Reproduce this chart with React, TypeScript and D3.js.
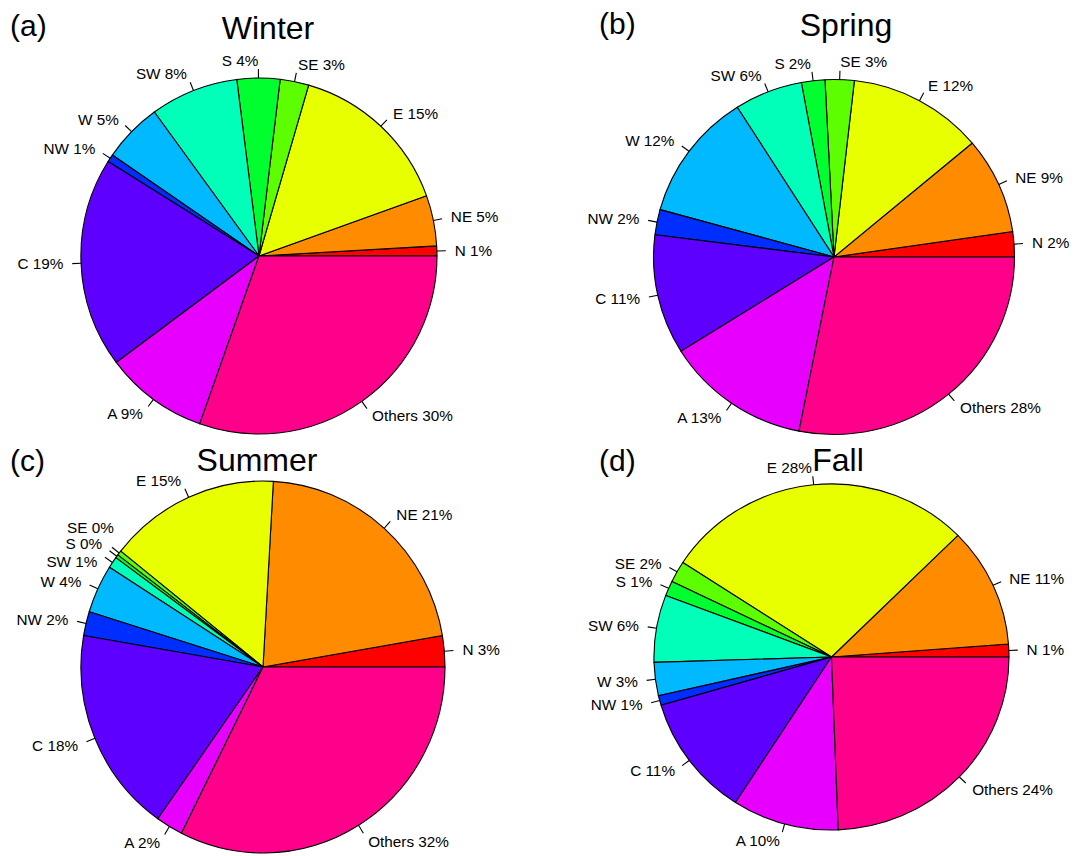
import React from "react";
import * as d3 from "d3";

// Source-region categories, in drawing order (counter-clockwise from 3 o'clock)
const CATEGORIES = ["N", "NE", "E", "SE", "S", "SW", "W", "NW", "C", "A", "Others"];

// rainbow(11) palette
const COLORS = [
  "#FF0000", "#FF8B00", "#E8FF00", "#5DFF00", "#00FF2E", "#00FFB9",
  "#00B9FF", "#002EFF", "#5D00FF", "#E800FF", "#FF008B",
];

const SEASONS = ["Winter", "Spring", "Summer", "Fall"];
const PANEL_TAGS = ["(a)", "(b)", "(c)", "(d)"];

// Seasonal share (%) of each category
const WINTER = [0.9, 4.6, 15.0, 2.6, 3.9, 8.0, 5.4, 0.7, 19.1, 9.4, 30.4];
const SPRING = [2.3, 8.8, 12.1, 2.6, 2.1, 6.1, 11.7, 2.3, 10.9, 13.0, 28.1];
const SUMMER = [2.7, 21.4, 15.2, 0.4, 0.3, 1.0, 4.2, 2.1, 17.9, 2.4, 32.4];
const FALL = [1.2, 11.2, 28.4, 2.0, 1.4, 6.3, 3.1, 0.9, 11.4, 9.7, 24.4];

const SERIES = [WINTER, SPRING, SUMMER, FALL];

// Panel geometry
const LAYOUT = [
  { cx: 259, cy: 256, rx: 178, ry: 178, titleX: 268, titleY: 39, tagX: 10, tagY: 36 },
  { cx: 834, cy: 257, rx: 180.5, ry: 177.5, titleX: 846, titleY: 36, tagX: 599, tagY: 34 },
  { cx: 263, cy: 667, rx: 182, ry: 186, titleX: 257, titleY: 471, tagX: 10, tagY: 471 },
  { cx: 831.5, cy: 657, rx: 177.5, ry: 173, titleX: 838, titleY: 471, tagX: 599, tagY: 471 },
];

// Small hand adjustments that keep crowded labels apart
const LABEL_NUDGE: Record<string, Record<string, [number, number]>> = {
  Summer: { SE: [9, -14], S: [0, -2], SW: [0, 10] },
};

const FONT = "'Liberation Sans', Arial, Helvetica, sans-serif";

const pie = d3
  .pie<number>()
  .sort(null)
  .value((d) => d)
  .startAngle(Math.PI / 2)
  .endAngle(Math.PI / 2 - 2 * Math.PI);

const arc = d3.arc<d3.PieArcDatum<number>>().innerRadius(0).outerRadius(1);

function PiePanel({ index }: { index: number }) {
  const values = SERIES[index];
  const season = SEASONS[index];
  const g = LAYOUT[index];
  const arcs = pie(values);
  const total = d3.sum(values);
  const nudges = LABEL_NUDGE[season] || {};

  return (
    <g>
      <text x={g.tagX} y={g.tagY} fontSize={30} fontFamily={FONT}>
        {PANEL_TAGS[index]}
      </text>
      <text x={g.titleX} y={g.titleY} fontSize={32} fontFamily={FONT} textAnchor="middle">
        {season}
      </text>
      <g transform={`translate(${g.cx},${g.cy}) scale(${g.rx},${g.ry})`}>
        {arcs.map((a, i) => (
          <path
            key={CATEGORIES[i]}
            d={arc(a) || ""}
            fill={COLORS[i]}
            stroke="#000"
            strokeWidth={1.1}
            strokeLinejoin="round"
            vectorEffect="non-scaling-stroke"
          />
        ))}
        {arcs.map((a, i) => {
          const m = (a.startAngle + a.endAngle) / 2;
          return (
            <line
              key={"t" + CATEGORIES[i]}
              x1={Math.sin(m)}
              y1={-Math.cos(m)}
              x2={1.05 * Math.sin(m)}
              y2={-1.05 * Math.cos(m)}
              stroke="#000"
              strokeWidth={1.1}
              vectorEffect="non-scaling-stroke"
            />
          );
        })}
      </g>
      {arcs.map((a, i) => {
        const m = (a.startAngle + a.endAngle) / 2;
        const ux = Math.sin(m);
        const uy = -Math.cos(m);
        const nd = nudges[CATEGORIES[i]] || [0, 0];
        const x = g.cx + 1.1 * g.rx * ux + nd[0];
        const y = g.cy + 1.1 * g.ry * uy + nd[1];
        const pct = Math.round((values[i] / total) * 100);
        return (
          <text
            key={"l" + CATEGORIES[i]}
            x={x}
            y={y}
            fontSize={15.3}
            fontFamily={FONT}
            textAnchor={ux < 0 ? "end" : "start"}
            dominantBaseline="central"
          >
            {`${CATEGORIES[i]} ${pct}%`}
          </text>
        );
      })}
    </g>
  );
}

export default function App() {
  return (
    <svg
      width={1074}
      height={856}
      viewBox="0 0 1074 856"
      style={{ position: "absolute", left: 0, top: 0, background: "#fff" }}
    >
      <rect width={1074} height={856} fill="#fff" />
      {SEASONS.map((s, i) => (
        <PiePanel key={s} index={i} />
      ))}
    </svg>
  );
}
